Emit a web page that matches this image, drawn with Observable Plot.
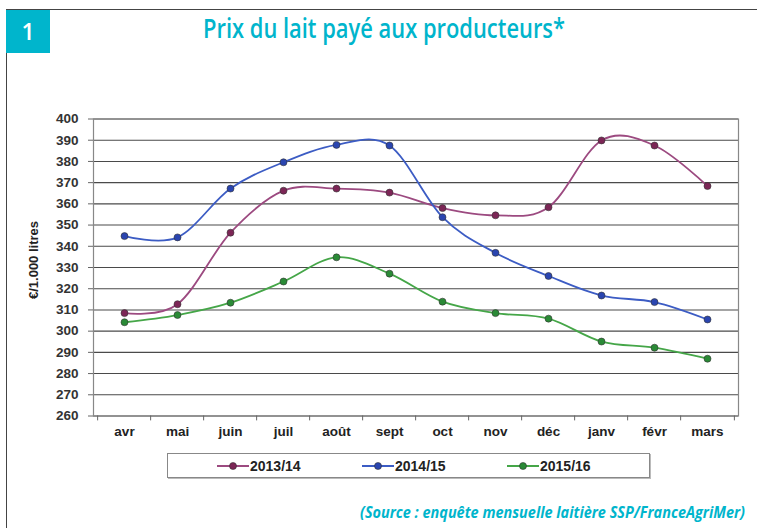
<!DOCTYPE html>
<html><head><meta charset="utf-8">
<script src="https://cdn.jsdelivr.net/npm/d3@7"></script>
<script src="https://cdn.jsdelivr.net/npm/@observablehq/plot@0.6"></script>
<style>
html,body{margin:0;padding:0;background:#fff;}
#wrap{position:relative;width:757px;height:528px;overflow:hidden;font-family:"Liberation Sans",Arial,sans-serif;}
#topline{position:absolute;left:6px;top:9px;width:751px;height:0;border-top:1.5px solid #444;}
#leftline{position:absolute;left:6px;top:10px;width:0;height:518px;border-left:1.5px solid #444;}
#num{position:absolute;left:6px;top:10px;width:44px;height:43px;background:#00b5cc;color:#fff;font-family:"Open Sans",sans-serif;font-weight:600;font-size:23px;line-height:43px;text-align:center;}
#title{position:absolute;left:203px;top:9px;white-space:nowrap;color:#00b5cc;font-family:"Open Sans",sans-serif;font-weight:600;font-size:27px;transform-origin:0 0;}
#ylab{position:absolute;left:33px;top:260px;white-space:nowrap;font-weight:bold;font-size:13px;color:#222;transform:translate(-50%,-50%) rotate(-90deg);}
#chart{position:absolute;left:0;top:100px;}
#legend{position:absolute;left:167px;top:453px;width:481px;height:23px;border:1px solid #888;box-shadow:1px 1px 0 #bbb;}
.item{position:absolute;top:0;height:23px;display:flex;align-items:center;font-weight:bold;font-size:14px;color:#222;}
#source{position:absolute;left:360px;top:500px;white-space:nowrap;color:#00b5cc;font-family:"Open Sans",sans-serif;font-weight:700;font-style:italic;font-size:16.5px;transform-origin:0 0;}
</style></head>
<body>
<div id="wrap">
  <div id="topline"></div>
  <div id="leftline"></div>
  <div id="num">1</div>
  <div id="title">Prix du lait payé aux producteurs*</div>
  <div id="ylab">€/1.000 litres</div>
  <div id="chart"></div>
  <div id="legend"></div>
  <div id="source">(Source : enquête mensuelle laitière SSP/FranceAgriMer)</div>
</div>
<script>
const months = ["avr","mai","juin","juil","août","sept","oct","nov","déc","janv","févr","mars"];
const seriesNames = ["2013/14","2014/15","2015/16"];
const v2013 = [308.5, 312.7, 346.4, 366.2, 367.2, 365.3, 358.0, 354.6, 358.4, 389.9, 387.5, 368.4];
const v2014 = [344.8, 344.2, 367.2, 379.6, 387.8, 387.5, 353.7, 336.9, 326.0, 316.8, 313.7, 305.5];
const v2015 = [304.2, 307.6, 313.4, 323.4, 334.8, 327.1, 313.9, 308.5, 305.9, 295.1, 292.2, 287.0];
const yTicks = [260,270,280,290,300,310,320,330,340,350,360,370,380,390,400];

const lineColors = ["#9c4a80","#3c5cc4","#45a648"];
const dotColors = ["#7c2656","#2a45b0","#2a8a36"];

const data = [];
[v2013, v2014, v2015].forEach((vals, i) => {
  vals.forEach((v, j) => data.push({month: months[j], value: v, series: seriesNames[i]}));
});

const W = 757, H = 345;
const mL = 93, mR = 19, mT = 18.5, mB = 29.5;
const step = (W - mL - mR) / months.length;

const chart = Plot.plot({
  width: W, height: H,
  marginLeft: mL, marginRight: mR, marginTop: mT, marginBottom: mB,
  style: {fontFamily: "Liberation Sans, Arial, sans-serif", background: "transparent", overflow: "visible"},
  x: {type: "point", domain: months, padding: 0.5, label: null},
  y: {domain: [260, 400], label: null},
  color: {domain: seriesNames, range: lineColors},
  marks: [
    Plot.ruleY(yTicks, {stroke: "#4a4a4a", strokeWidth: 1.1}),
    Plot.frame({stroke: "#888", strokeWidth: 1.2}),
    Plot.ruleX(months, {y1: 260, y2: 257.7, dx: -step/2, stroke: "#666"}),
    Plot.ruleX(months.slice(-1), {y1: 260, y2: 257.7, dx: step/2, stroke: "#666"}),
    Plot.axisY({ticks: yTicks, tickSize: 5, tickPadding: 10, fontSize: 13.5, fontWeight: "bold", fill: "#333", stroke: "#666", label: null}),
    Plot.axisX({tickSize: 0, tickPadding: 10, fontSize: 13.5, fontWeight: "bold", fill: "#222", label: null}),
    Plot.line(data, {x: "month", y: "value", z: "series", stroke: "series", strokeWidth: 1.8, curve: "cardinal"}),
    Plot.dot(data, {x: "month", y: "value", fill: d => dotColors[seriesNames.indexOf(d.series)], stroke: "#333", strokeWidth: 0.6, r: 3.5})
  ]
});
document.getElementById("chart").appendChild(chart);

// legend
const legend = document.getElementById("legend");
const legendX = [49, 194, 339];
seriesNames.forEach((name, i) => {
  const it = document.createElement("div");
  it.className = "item";
  it.style.left = legendX[i] + "px";
  it.innerHTML = `<svg width="32" height="10" style="margin-right:1px"><line x1="0" y1="5" x2="32" y2="5" stroke="${lineColors[i]}" stroke-width="2"/><circle cx="16" cy="5" r="3.5" fill="${dotColors[i]}" stroke="#333" stroke-width="0.6"/></svg>${name}`;
  legend.appendChild(it);
});

// fit title/source widths
function fit(id, target) {
  const el = document.getElementById(id);
  const w = el.getBoundingClientRect().width;
  el.style.transform = `scaleX(${target / w})`;
}
fit("title", 362);
fit("source", 385);
</script>
</body></html>
